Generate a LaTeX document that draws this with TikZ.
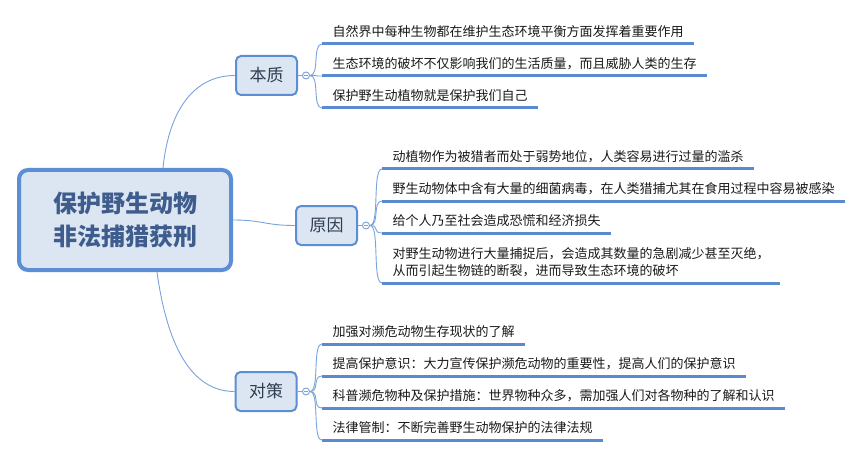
\documentclass[tikz,border=0pt]{standalone}
\usepackage{fontspec}
\setmainfont{Noto Sans CJK SC}
\usetikzlibrary{calc}
\definecolor{bordcol}{HTML}{5B8ED5}
\definecolor{fillcol}{HTML}{DCE6F2}
\definecolor{conncol}{HTML}{7AA3DA}
\definecolor{ulinecol}{HTML}{5A8BD2}
\definecolor{roottext}{HTML}{3E5C8C}
\definecolor{brtext}{HTML}{2F3D52}
\definecolor{leaftext}{HTML}{1A1A1A}
\begin{document}
\begin{tikzpicture}[x=1pt,y=-1pt,
 rootbox/.style={draw=bordcol, line width=4pt, fill=fillcol, rounded corners=9pt, minimum width=212pt, minimum height=100pt, align=center, text=roottext, font=\fontsize{24}{33}\selectfont\bfseries, inner sep=0pt},
 branch/.style={draw=bordcol, line width=2pt, fill=fillcol, rounded corners=5pt, minimum width=61pt, minimum height=39pt, text=brtext, font=\fontsize{17}{20}\selectfont, inner sep=0pt},
 collapse/.style={circle, draw=conncol, line width=0.9pt, fill=white, minimum size=7pt, inner sep=0pt, path picture={\draw[conncol, line width=0.8pt] ([xshift=-2pt]path picture bounding box.center) -- ([xshift=2pt]path picture bounding box.center);}},
 leaf/.style={anchor=south west, inner xsep=10.5pt, inner ysep=0pt, text depth=7.5pt, font=\fontsize{13}{17}\selectfont, text=leaftext},
 cline/.style={draw=conncol, line width=0.9pt},
 uline/.style={draw=ulinecol, line width=3pt},
]
\fill[white] (0,0) rectangle (864,457);
\useasboundingbox (0,0) rectangle (864,457);

% main nodes
\node[rootbox] (root) at (125,220) {保护野生动物\\非法捕猎获刑};
\node[branch] (bz) at (266.5,75.5) {本质};
\node[branch] (yy) at (326.5,225.5) {原因};
\node[branch] (dc) at (266,391.5) {对策};

\node[collapse] (cb) at (306,75.5) {};
\node[collapse] (cy) at (366,225.5) {};
\node[collapse] (cd) at (306,391.5) {};

% leaves
\node[leaf] (b1) at (322,44) {自然界中每种生物都在维护生态环境平衡方面发挥着重要作用};
\node[leaf] (b2) at (322,76) {生态环境的破坏不仅影响我们的生活质量，而且威胁人类的生存};
\node[leaf] (b3) at (322,108) {保护野生动植物就是保护我们自己};

\node[leaf] (y1) at (382,169) {动植物作为被猎者而处于弱势地位，人类容易进行过量的滥杀};
\node[leaf] (y2) at (382,201) {野生动物体中含有大量的细菌病毒，在人类猎捕尤其在食用过程中容易被感染};
\node[leaf] (y3) at (382,233) {给个人乃至社会造成恐慌和经济损失};
\node[leaf] (y4) at (382,283) {\begin{tabular}[b]{@{}l@{}}对野生动物进行大量捕捉后，会造成其数量的急剧减少甚至灭绝，\\从而引起生物链的断裂，进而导致生态环境的破坏\end{tabular}};

\node[leaf] (d1) at (322,344) {加强对濒危动物生存现状的了解};
\node[leaf] (d2) at (322,376) {提高保护意识：大力宣传保护濒危动物的重要性，提高人们的保护意识};
\node[leaf] (d3) at (322,408) {科普濒危物种及保护措施：世界物种众多，需加强人们对各物种的了解和认识};
\node[leaf] (d4) at (322,440) {法律管制：不断完善野生动物保护的法律法规};

% underlines
\foreach \n in {b1,b2,b3,y1,y2,y3,y4,d1,d2,d3,d4}
  \draw[uline] (\n.south west) -- (\n.south east);

% root connectors
\draw[cline] ([xshift=38pt]root.north) .. controls +(5,-50) and +(-46,0) .. (bz.west);
\draw[cline] (root.east) .. controls +(30,0) and +(-30,0) .. (yy.west);
\draw[cline] ([xshift=32pt]root.south) .. controls +(8,58) and +(-50,0) .. (dc.west);

% branch to collapse
\draw[cline] (bz.east) -- (cb.west);
\draw[cline] (yy.east) -- (cy.west);
\draw[cline] (dc.east) -- (cd.west);

% collapse to leaves
\foreach \n in {b1,b2,b3}
  \draw[cline] (cb.east) .. controls +(10,0) and +(-10,0) .. (\n.south west);
\foreach \n in {y1,y2,y3,y4}
  \draw[cline] (cy.east) .. controls +(10,0) and +(-10,0) .. (\n.south west);
\foreach \n in {d1,d2,d3,d4}
  \draw[cline] (cd.east) .. controls +(10,0) and +(-10,0) .. (\n.south west);
\end{tikzpicture}
\end{document}
